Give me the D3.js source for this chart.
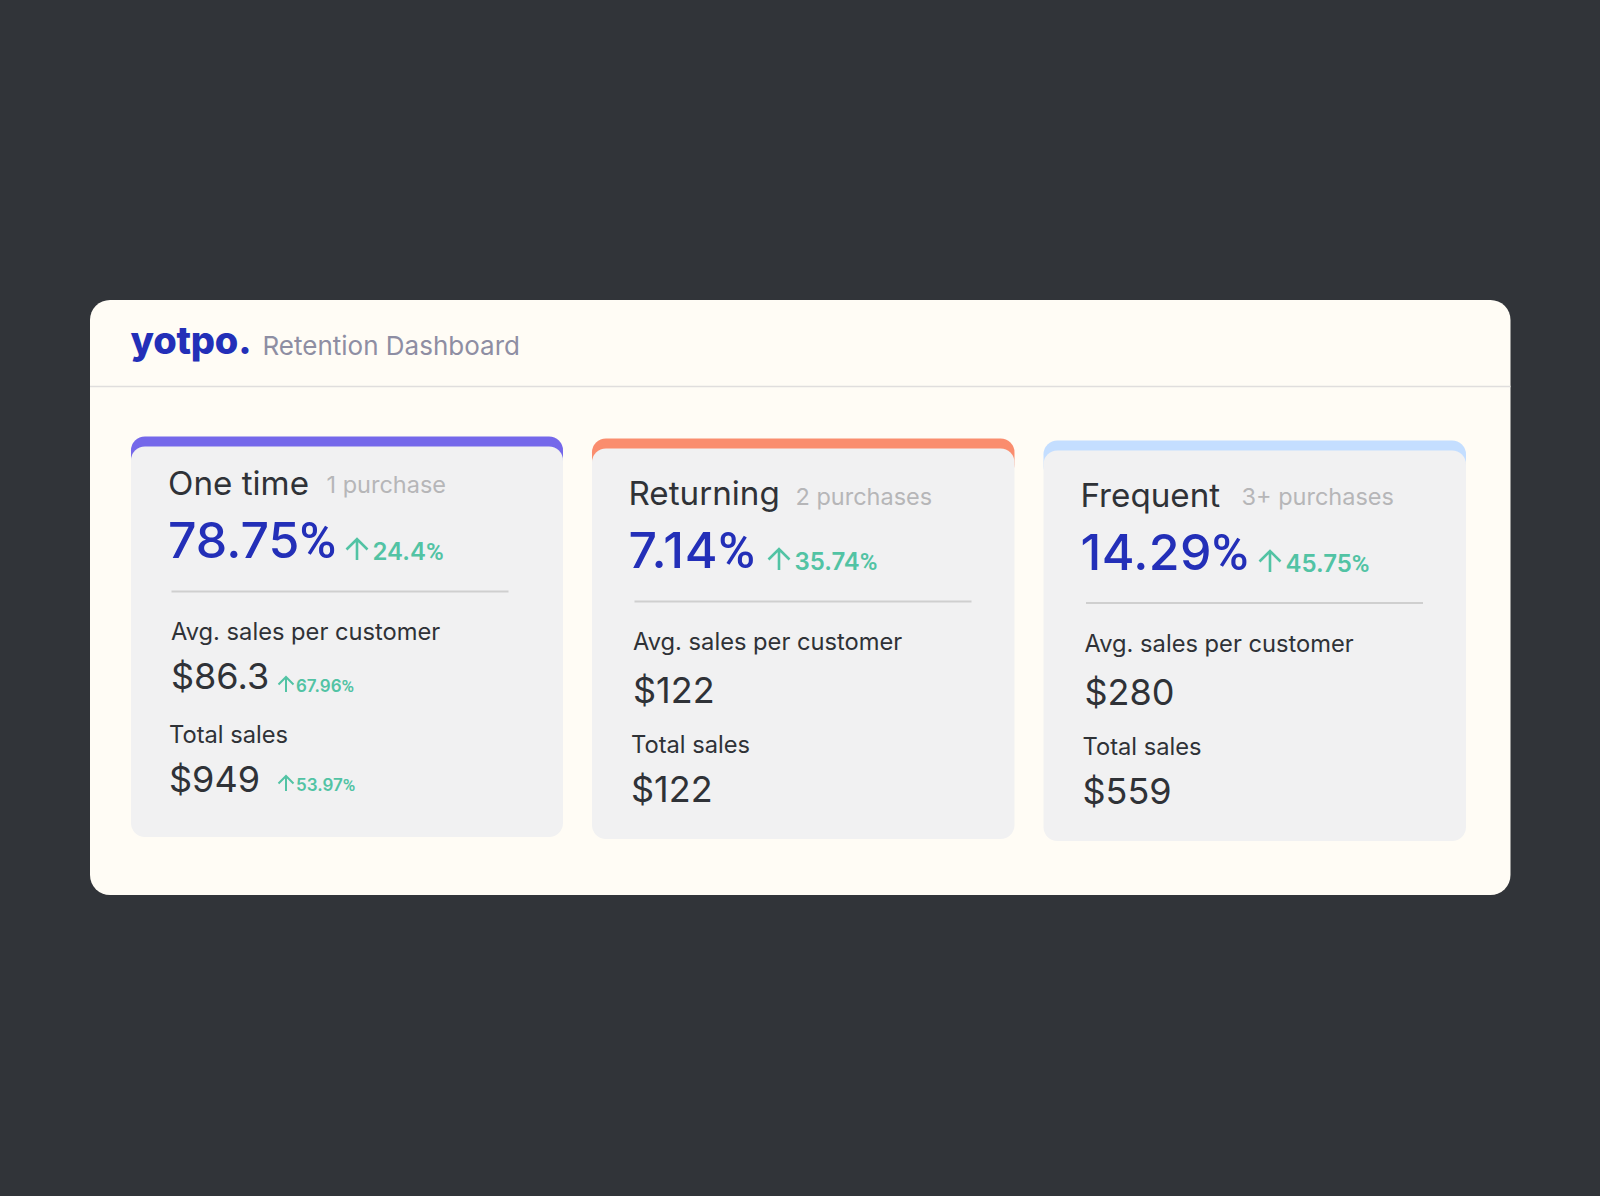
<!DOCTYPE html>
<html>
<head>
<meta charset="utf-8">
<script src="https://cdn.jsdelivr.net/npm/d3@7"></script>
<style>
  html, body { margin: 0; background: #313439; }
  svg { display: block; }
  text { font-family: Inter, "Noto Sans", sans-serif; }
</style>
</head>
<body>
<div id="chart"></div>
<script>
// values
const segments = ["One time", "Returning", "Frequent"];
const purchases = ["1 purchase", "2 purchases", "3+ purchases"];
const shares = ["78.75%", "7.14%", "14.29%"];
const shareDeltas = ["24.4%", "35.74%", "45.75%"];
const avgSales = ["$86.3", "$122", "$280"];
const avgDeltas = ["67.96%", null, null];
const totalSales = ["$949", "$122", "$559"];
const totalDeltas = ["53.97%", null, null];
const accents = ["#7568ea", "#fa8d6e", "#c4deff"];

// the three cards do not line up, so every offset goes through a scale on the segment
const seg = range => d3.scaleOrdinal().domain(segments).range(range);
const cardX = seg([131, 592, 1043.5]);
const cardY = seg([436.5, 438.5, 440.5]);
const cardW = seg([432, 422.5, 422.5]);
const cardH = seg([400.5, 400.5, 400.5]);
const titleX = seg([168, 628.5, 1080.5]);
const subX = seg([326.5, 795.5, 1241.5]);
const subBase = seg([493, 505, 505]);
const titleBase = seg([494.5, 505, 507]);
const shareBase = seg([558, 568, 570]);
const shareSpacing = seg([0, 0.8, 0.4]);
const shareArrow = seg([346.5, 768.5, 1259.5]);
const divY = seg([591.5, 601.5, 603]);
const divX = seg([171.5, 634.5, 1086]);
const innerX = seg([171, 633, 1084.5]);
const avgLabelBase = seg([640, 650, 652]);
const avgBase = seg([689, 703, 705]);
const totalLabelBase = seg([742.5, 752.5, 755]);
const totalBase = seg([792, 802, 803.5]);

const blue = "#232fb8", green = "#52c3a4", dark = "#2f3237", grey = "#b6b6b8";

const svg = d3.select("#chart").append("svg")
    .attr("width", 1600)
    .attr("height", 1196);

// white panel and header
svg.append("rect")
    .attr("x", 90).attr("y", 300)
    .attr("width", 1420.5).attr("height", 595)
    .attr("rx", 20)
    .attr("fill", "#fffcf5");

svg.append("line")
    .attr("x1", 90).attr("x2", 1510.5)
    .attr("y1", 386.5).attr("y2", 386.5)
    .attr("stroke", "#e0dedd")
    .attr("stroke-width", 1.5);

svg.append("text")
    .attr("x", 130.5).attr("y", 354)
    .attr("font-size", 38)
    .attr("font-weight", 800)
    .attr("letter-spacing", -0.2)
    .attr("fill", blue)
    .text("yotpo.");

svg.append("text")
    .attr("x", 262.5).attr("y", 354.5)
    .attr("font-size", 26)
    .attr("fill", "#8e8ea3")
    .text("Retention Dashboard");

function label(g, x, y, size, color, str, weight) {
    return g.append("text")
        .attr("x", x).attr("y", y)
        .attr("font-size", size)
        .attr("font-weight", weight || 400)
        .attr("fill", color)
        .text(str);
}

// Inter's percent sign here runs wider than the reference, so it gets a narrower face
function percent(g, x, y, size, color, str, weight) {
    const t = label(g, x, y, size, color, str.slice(0, -1), weight);
    t.append("tspan")
        .style("font-family", "Roboto")
        .text("%");
    return t;
}

// up arrow, sized from its height
function arrow(g, x, base, w, color) {
    const h = w;
    const mid = x + w / 2;
    g.append("path")
        .attr("d", `M${mid},${base} V${base - h} M${x},${base - h + w / 2} L${mid},${base - h} L${x + w},${base - h + w / 2}`)
        .attr("fill", "none")
        .attr("stroke", color)
        .attr("stroke-width", w > 18 ? 2.6 : 2);
}

segments.forEach((s, i) => {
    const g = svg.append("g");
    const x = cardX(s), y = cardY(s), w = cardW(s), h = cardH(s);

    // accent strip sits behind the card body
    g.append("rect")
        .attr("x", x).attr("y", y)
        .attr("width", w).attr("height", 40)
        .attr("rx", 14)
        .attr("fill", accents[i]);
    g.append("rect")
        .attr("x", x).attr("y", y + 10)
        .attr("width", w).attr("height", h - 10)
        .attr("rx", 14)
        .attr("fill", "#f1f1f2");

    label(g, titleX(s), titleBase(s), 33.2, dark, s);
    label(g, subX(s), subBase(s), 23.5, grey, purchases[i]);
    percent(g, titleX(s), shareBase(s), 50, blue, shares[i], 500)
        .attr("letter-spacing", shareSpacing(s));

    arrow(g, shareArrow(s), shareBase(s) + 2, 21, green);
    percent(g, shareArrow(s) + 26, shareBase(s) + 2, 24, green, shareDeltas[i], 600);

    g.append("line")
        .attr("x1", divX(s)).attr("x2", divX(s) + 337)
        .attr("y1", divY(s)).attr("y2", divY(s))
        .attr("stroke", "#cfcfcf")
        .attr("stroke-width", 2);

    const inner = innerX(s);
    label(g, inner, avgLabelBase(s), 23.7, dark, "Avg. sales per customer");
    label(g, inner, avgBase(s), 36, dark, avgSales[i]);
    label(g, inner - 2, totalLabelBase(s), 23.7, dark, "Total sales");
    label(g, inner - 2, totalBase(s), 36, dark, totalSales[i]);

    if (avgDeltas[i]) {
        arrow(g, x + 147.5, avgBase(s) + 3, 15, green);
        percent(g, x + 165, avgBase(s) + 3, 17, green, avgDeltas[i], 600);
    }
    if (totalDeltas[i]) {
        arrow(g, x + 147.5, totalBase(s) - 1, 15, green);
        percent(g, x + 165, totalBase(s) - 1, 17, green, totalDeltas[i], 600);
    }
});
</script>
</body>
</html>
